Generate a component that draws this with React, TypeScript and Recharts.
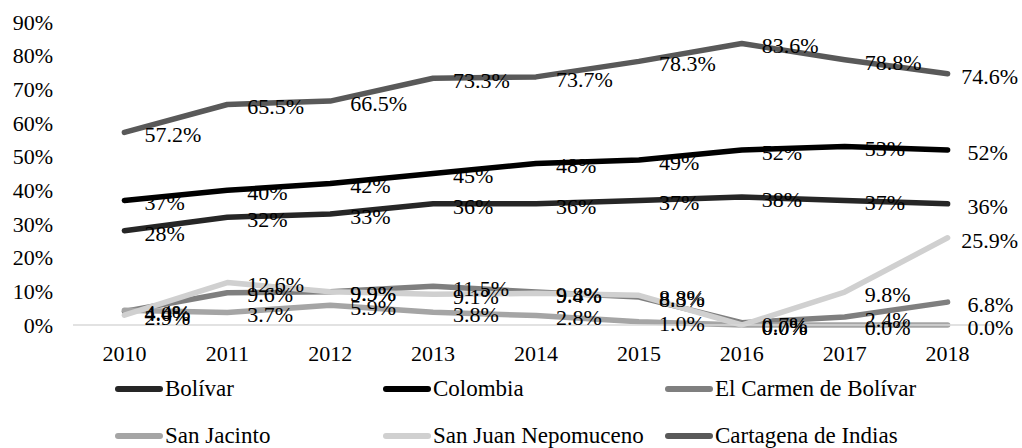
import { LineChart, Line, XAxis, YAxis, LabelList } from "recharts";

const years = ["2010", "2011", "2012", "2013", "2014", "2015", "2016", "2017", "2018"];

const bolivar = [28, 32, 33, 36, 36, 37, 38, 37, 36];
const colombia = [37, 40, 42, 45, 48, 49, 52, 53, 52];
const elCarmen = [4.0, 9.6, 9.9, 11.5, 9.8, 8.3, 0.7, 2.4, 6.8];
const sanJacinto = [4.4, 3.7, 5.9, 3.8, 2.8, 1.0, 0.0, 0.0, 0.0];
const sanJuan = [2.9, 12.6, 9.9, 9.1, 9.4, 8.8, 0.0, 9.8, 25.9];
const cartagena = [57.2, 65.5, 66.5, 73.3, 73.7, 78.3, 83.6, 78.8, 74.6];

const yTicks = [0, 10, 20, 30, 40, 50, 60, 70, 80, 90];

const series = [
  { key: "bolivar", name: "Bolívar", values: bolivar, color: "#262626", decimals: 0 },
  { key: "colombia", name: "Colombia", values: colombia, color: "#000000", decimals: 0 },
  { key: "elCarmen", name: "El Carmen de Bolívar", values: elCarmen, color: "#7f7f7f", decimals: 1 },
  { key: "sanJacinto", name: "San Jacinto", values: sanJacinto, color: "#a5a5a5", decimals: 1 },
  { key: "sanJuan", name: "San Juan Nepomuceno", values: sanJuan, color: "#d0d0d0", decimals: 1 },
  { key: "cartagena", name: "Cartagena de Indias", values: cartagena, color: "#595959", decimals: 1 },
];

const data = years.map((year, i) => {
  const row: any = { year };
  series.forEach((s) => {
    row[s.key] = s.values[i];
  });
  return row;
});

const FONT = "Liberation Serif, Tinos, Times New Roman, DejaVu Serif, serif";
const FS = 22;

// rough Times widths, in em
function textWidth(t: string) {
  let w = 0;
  for (const c of t) {
    if (c === ".") w += 0.25;
    else if (c === "%") w += 0.833;
    else w += 0.5;
  }
  return w * FS;
}

function makeLabel(decimals: number) {
  return (props: any) => {
    const { x, y, value } = props;
    if (x == null || y == null) return null;
    const text = `${Number(value).toFixed(decimals)}%`;
    let lx = x + 20;
    const w = textWidth(text);
    if (lx + w > 1018) lx = 1018 - w;
    return (
      <text x={lx} y={y + 2} dy="0.355em" style={{ fontFamily: FONT }} fontSize={FS} fill="#000">
        {text}
      </text>
    );
  };
}

const legendCols = [115, 383, 665];
const legendRows = [389, 436];

export default function App() {
  return (
    <div style={{ position: "absolute", left: 0, top: 0, width: 1022, height: 448, background: "#fff", fontFamily: FONT }}>
      <LineChart
        width={1022}
        height={448}
        data={data}
        margin={{ top: 22, right: 23, bottom: 83, left: 0 }}
        style={{ fontFamily: FONT }}
      >
        <XAxis
          dataKey="year"
          height={40}
          padding={{ left: 51.4, right: 51.4 }}
          axisLine={{ stroke: "#d9d9d9", strokeWidth: 1.5 }}
          tickLine={false}
          tickSize={0}
          tickMargin={20}
          tick={{ fill: "#000", fontFamily: FONT, fontSize: FS }}
          interval={0}
        />
        <YAxis
          width={73}
          domain={[0, 90]}
          ticks={yTicks}
          tickFormatter={(v) => `${v}%`}
          axisLine={false}
          tickLine={false}
          tickSize={0}
          tickMargin={20}
          tick={{ fill: "#000", fontFamily: FONT, fontSize: FS }}
          interval={0}
        />
        {series.map((s) => (
          <Line
            key={s.key}
            type="linear"
            dataKey={s.key}
            name={s.name}
            stroke={s.color}
            strokeWidth={5.5}
            strokeLinecap="round"
            strokeLinejoin="round"
            dot={false}
            activeDot={false}
            isAnimationActive={false}
          >
            <LabelList dataKey={s.key} content={makeLabel(s.decimals)} />
          </Line>
        ))}
      </LineChart>
      {series.map((s, i) => {
        const left = legendCols[i % 3];
        const top = legendRows[Math.floor(i / 3)];
        return (
          <div
            key={s.key}
            style={{
              position: "absolute",
              left,
              top: top - 14,
              height: 28,
              display: "flex",
              alignItems: "center",
              fontFamily: FONT,
              fontSize: 23,
              color: "#000",
              whiteSpace: "nowrap",
            }}
          >
            <span
              style={{
                display: "inline-block",
                width: 48,
                height: 6,
                borderRadius: 3,
                background: s.color,
                marginRight: 2,
              }}
            />
            {s.name}
          </div>
        );
      })}
    </div>
  );
}
